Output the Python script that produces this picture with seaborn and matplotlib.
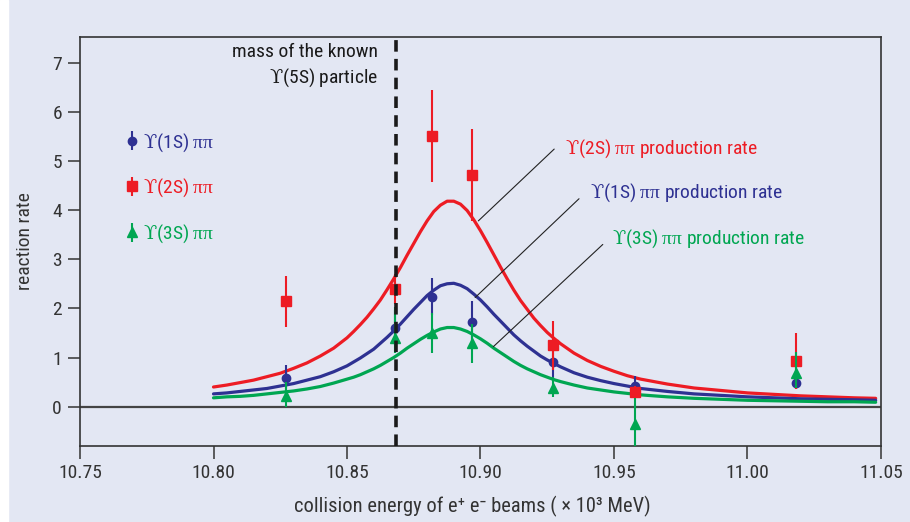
import matplotlib
matplotlib.use("Agg")
import matplotlib.pyplot as plt
import seaborn as sns

# ---------------- data ----------------
energy = [10.827, 10.868, 10.882, 10.897, 10.927, 10.958, 11.018]

rate_1s = [0.59, 1.61, 2.24, 1.73, 0.90, 0.42, 0.49]
err_1s = [0.26, 0.35, 0.38, 0.42, 0.33, 0.20, 0.14]

rate_2s = [2.14, 2.39, 5.51, 4.71, 1.25, 0.30, 0.92]
err_2s = [0.52, 0.30, 0.93, 0.93, 0.50, 0.12, 0.57]

rate_3s = [0.21, 1.39, 1.49, 1.29, 0.39, -0.36, 0.68]
err_3s_lo = [0.21, 0.30, 0.39, 0.41, 0.19, 0.53, 0.30]
err_3s_hi = [0.30, 0.64, 0.41, 0.39, 0.22, 0.53, 0.44]

# production-rate curves
fit_energy = [10.800, 10.805, 10.810, 10.815, 10.820, 10.825, 10.830, 10.835,
              10.840, 10.845, 10.850, 10.8525, 10.855, 10.8575, 10.860, 10.8625,
              10.865, 10.8675, 10.870, 10.8725, 10.875, 10.8775, 10.880, 10.8825,
              10.885, 10.8875, 10.890, 10.8925, 10.895, 10.8975, 10.900, 10.9025,
              10.905, 10.9075, 10.910, 10.9125, 10.915, 10.9175, 10.920, 10.9225,
              10.925, 10.9275, 10.930, 10.935, 10.940, 10.945, 10.950, 10.955,
              10.960, 10.970, 10.980, 10.990, 11.000, 11.010, 11.020, 11.030,
              11.040, 11.048]
fit_2s = [0.40, 0.44, 0.49, 0.54, 0.61, 0.68, 0.78, 0.89, 1.03, 1.19, 1.40, 1.53,
          1.67, 1.82, 1.99, 2.17, 2.38, 2.60, 2.83, 3.08, 3.32, 3.56, 3.78, 3.97,
          4.10, 4.18, 4.18, 4.12, 3.99, 3.80, 3.58, 3.34, 3.09, 2.84, 2.60, 2.37,
          2.16, 1.98, 1.80, 1.65, 1.51, 1.39, 1.28, 1.09, 0.94, 0.82, 0.72, 0.63,
          0.56, 0.46, 0.38, 0.33, 0.28, 0.25, 0.22, 0.20, 0.18, 0.17]
fit_1s = [0.26, 0.28, 0.31, 0.34, 0.37, 0.42, 0.47, 0.54, 0.61, 0.71, 0.83, 0.91,
          0.99, 1.08, 1.17, 1.29, 1.41, 1.54, 1.68, 1.83, 1.98, 2.12, 2.26, 2.37,
          2.46, 2.50, 2.51, 2.47, 2.40, 2.29, 2.17, 2.03, 1.88, 1.74, 1.60, 1.46,
          1.34, 1.23, 1.13, 1.03, 0.95, 0.88, 0.81, 0.69, 0.60, 0.53, 0.47, 0.42,
          0.37, 0.31, 0.26, 0.23, 0.20, 0.18, 0.16, 0.15, 0.14, 0.13]
fit_3s = [0.18, 0.20, 0.21, 0.23, 0.26, 0.29, 0.32, 0.36, 0.41, 0.48, 0.56, 0.60,
          0.65, 0.71, 0.77, 0.84, 0.92, 1.00, 1.09, 1.19, 1.28, 1.37, 1.45, 1.52,
          1.58, 1.61, 1.61, 1.58, 1.53, 1.46, 1.38, 1.29, 1.19, 1.10, 1.01, 0.92,
          0.84, 0.77, 0.71, 0.65, 0.60, 0.55, 0.51, 0.44, 0.38, 0.34, 0.30, 0.27,
          0.24, 0.20, 0.17, 0.15, 0.13, 0.12, 0.11, 0.10, 0.10, 0.09]

upsilon5s_mass = 10.8685

x_ticks = [10.75, 10.80, 10.85, 10.90, 10.95, 11.00, 11.05]
x_tick_labels = ["10.75", "10.80", "10.85", "10.90", "10.95", "11.00", "11.05"]
y_ticks = [0, 1, 2, 3, 4, 5, 6, 7]
y_tick_labels = ["0", "1", "2", "3", "4", "5", "6", "7"]

label_1s = r"$\mathsf{ϒ}$(1S) $\mathrm{ππ}$"
label_2s = r"$\mathsf{ϒ}$(2S) $\mathrm{ππ}$"
label_3s = r"$\mathsf{ϒ}$(3S) $\mathrm{ππ}$"
fit_label_1s = r"$\mathsf{ϒ}$(1S) $\mathrm{ππ}$ production rate"
fit_label_2s = r"$\mathsf{ϒ}$(2S) $\mathrm{ππ}$ production rate"
fit_label_3s = r"$\mathsf{ϒ}$(3S) $\mathrm{ππ}$ production rate"

# ---------------- style ----------------
BG = "#E3E7F3"
RED = "#ED1C24"
BLUE = "#2E3192"
GREEN = "#00A651"
INK = "#333333"

sns.set_theme(style="white")
plt.rcParams["font.family"] = ["Roboto Condensed", "DejaVu Sans"]
plt.rcParams["mathtext.fontset"] = "custom"
plt.rcParams["mathtext.rm"] = "Liberation Serif"
plt.rcParams["mathtext.sf"] = "DejaVu Serif"
plt.rcParams["mathtext.it"] = "Liberation Serif:italic"
plt.rcParams["mathtext.bf"] = "Liberation Serif:bold"
FS = 14

fig = plt.figure(figsize=(9.10, 5.22), dpi=100, facecolor=BG)
ax = fig.add_axes([80 / 910, 1 - 446 / 522, 801 / 910, 409 / 522])
ax.set_facecolor(BG)
fig.patches.append(plt.Rectangle((0, 0), 8 / 910, 1, transform=fig.transFigure,
                                 color="white", zorder=-10))

ax.set_xlim(10.75, 11.05)
ax.set_ylim(-0.80, 7.52)

# zero line
ax.axhline(0, color="#444444", lw=1.6, zorder=1)

# production-rate curves
sns.lineplot(x=fit_energy, y=fit_2s, color=RED, lw=2.3, ax=ax, zorder=2)
sns.lineplot(x=fit_energy, y=fit_1s, color=BLUE, lw=2.3, ax=ax, zorder=2)
sns.lineplot(x=fit_energy, y=fit_3s, color=GREEN, lw=2.3, ax=ax, zorder=2)

# measured points with error bars
h1 = ax.errorbar(energy, rate_1s, yerr=err_1s, fmt="o", color=BLUE, ms=6,
                 elinewidth=1.5, capsize=0, zorder=3, label=label_1s)
h2 = ax.errorbar(energy, rate_2s, yerr=err_2s, fmt="s", color=RED, ms=7.5,
                 elinewidth=1.5, capsize=0, zorder=4, label=label_2s)
h3 = ax.errorbar(energy, rate_3s, yerr=[err_3s_lo, err_3s_hi], fmt="^", color=GREEN,
                 ms=7.5, elinewidth=1.5, capsize=0, zorder=5, label=label_3s)

# dashed line: mass of the known Y(5S)
ax.axvline(upsilon5s_mass, color="#1a1a1a", lw=2.6, linestyle=(0, (3.2, 2.0)), zorder=6)
ax.text(10.8616, 7.11, "mass of the known", ha="right", va="baseline",
        fontsize=FS, color="#1a1a1a")
ax.text(10.8616, 6.59, r"$\mathsf{ϒ}$(5S) particle", ha="right", va="baseline",
        fontsize=FS, color="#1a1a1a")

# leader lines and curve labels
ax.plot([10.8992, 10.9276], [3.78, 5.24], color="#222222", lw=0.8, zorder=2.5)
ax.plot([10.8980, 10.9369], [2.22, 4.23], color="#222222", lw=0.8, zorder=2.5)
ax.plot([10.9048, 10.9458], [1.22, 3.30], color="#222222", lw=0.8, zorder=2.5)
ax.text(10.9316, 5.14, fit_label_2s, color=RED, fontsize=FS, va="baseline")
ax.text(10.9410, 4.25, fit_label_1s, color=BLUE, fontsize=FS, va="baseline")
ax.text(10.9491, 3.32, fit_label_3s, color=GREEN, fontsize=FS, va="baseline")

# legend
leg = ax.legend([h1, h2, h3], [label_1s, label_2s, label_3s], loc="upper left",
                bbox_to_anchor=(0.057, 0.770), frameon=False, fontsize=FS,
                handlelength=0.7, handletextpad=0.2, labelspacing=1.2,
                borderpad=0, borderaxespad=0)
for t, c in zip(leg.get_texts(), [BLUE, RED, GREEN]):
    t.set_color(c)

# axes styling
ax.set_xticks(x_ticks)
ax.set_xticklabels(x_tick_labels)
ax.set_yticks(y_ticks)
ax.set_yticklabels(y_tick_labels)
ax.tick_params(axis="both", direction="out", length=9, width=1.1, color=INK,
               labelcolor=INK, labelsize=FS, pad=4, bottom=True, left=True)
for s in ax.spines.values():
    s.set_color(INK)
    s.set_linewidth(1.2)
    s.set_visible(True)

ax.set_xlabel("collision energy of e⁺ e⁻ beams ( × 10³ MeV)", fontsize=14.8, color=INK)
ax.xaxis.set_label_coords(0.49, -0.122)
ax.set_ylabel("reaction rate", fontsize=FS, color=INK)
ax.yaxis.set_label_coords(-0.058, 0.5)

fig.savefig("out.png", dpi=100, facecolor=BG)
